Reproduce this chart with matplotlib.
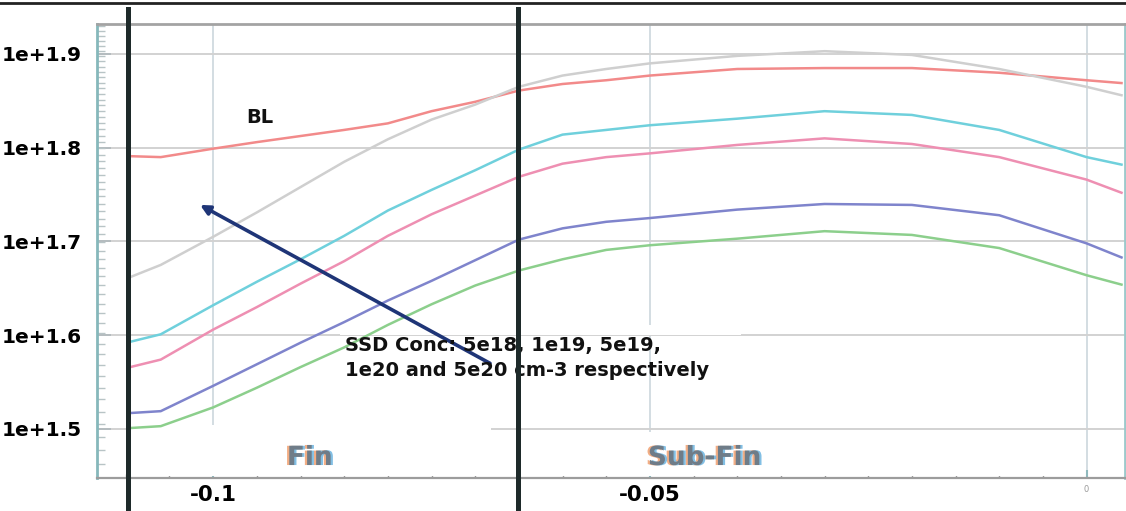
import numpy as np
import matplotlib.pyplot as plt
import matplotlib.patheffects as pe
from matplotlib.ticker import FixedLocator, FuncFormatter, NullFormatter, MultipleLocator
from matplotlib.patches import Rectangle

plt.rcParams['font.family'] = ['DejaVu Sans']

# position along the fin (um) where each curve was sampled
x_pos = [-0.1095, -0.106, -0.1, -0.095, -0.09, -0.085, -0.08, -0.075, -0.07,
         -0.065, -0.06, -0.055, -0.05, -0.04, -0.03, -0.02, -0.01, 0.0, 0.004]

# log10 of the plotted quantity, one list per curve
bl_exp = [1.791, 1.790, 1.799, 1.806, 1.8125, 1.819, 1.826, 1.839, 1.849, 1.861,
          1.868, 1.872, 1.877, 1.884, 1.885, 1.885, 1.880, 1.872, 1.869]
ssd_5e18_exp = [1.662, 1.675, 1.705, 1.731, 1.758, 1.785, 1.809, 1.830, 1.846, 1.865,
                1.877, 1.884, 1.890, 1.898, 1.903, 1.899, 1.884, 1.865, 1.856]
ssd_1e19_exp = [1.593, 1.601, 1.632, 1.657, 1.681, 1.706, 1.733, 1.755, 1.776, 1.798,
                1.814, 1.819, 1.824, 1.831, 1.839, 1.835, 1.819, 1.790, 1.782]
ssd_5e19_exp = [1.566, 1.574, 1.606, 1.630, 1.655, 1.679, 1.706, 1.729, 1.749, 1.769,
                1.783, 1.790, 1.794, 1.803, 1.810, 1.804, 1.790, 1.766, 1.752]
ssd_1e20_exp = [1.517, 1.519, 1.546, 1.569, 1.592, 1.614, 1.637, 1.658, 1.680, 1.702,
                1.714, 1.721, 1.725, 1.734, 1.740, 1.739, 1.728, 1.698, 1.683]
ssd_5e20_exp = [1.501, 1.503, 1.523, 1.544, 1.566, 1.587, 1.611, 1.633, 1.653, 1.669,
                1.681, 1.691, 1.696, 1.703, 1.711, 1.707, 1.693, 1.664, 1.654]

curves = [
    (bl_exp, '#f28a8a'),
    (ssd_5e18_exp, '#cfcfcf'),
    (ssd_1e19_exp, '#6fd0dc'),
    (ssd_5e19_exp, '#ee8fb2'),
    (ssd_1e20_exp, '#7f84cc'),
    (ssd_5e20_exp, '#8ccf8c'),
]

y_tick_exps = [1.5, 1.6, 1.7, 1.8, 1.9]
x_ticks = [-0.1, -0.05, 0.0]
region_edges = [-0.1097, -0.0651]   # Fin / Sub-Fin boundaries

arrow_tail = (-0.0683, 1.570)
arrow_head = (-0.1015, 1.739)

fig = plt.figure(figsize=(11.26, 5.11), dpi=100)
ax = fig.add_axes([97 / 1126, 33 / 511, 1028 / 1126, 454 / 511])

for exps, col in curves:
    ax.plot(x_pos, np.power(10.0, exps), color=col, lw=1.8, zorder=3,
            solid_joinstyle='round')

ax.set_yscale('log')
ax.set_xlim(-0.1133, 0.0044)
ax.set_ylim(10 ** 1.4477, 10 ** 1.932)

ax.yaxis.set_major_locator(FixedLocator(np.power(10.0, y_tick_exps)))
ax.yaxis.set_major_formatter(FuncFormatter(lambda v, p: f"1e+{np.log10(v):.1f}"))
ax.yaxis.set_minor_locator(FixedLocator(np.arange(28, 86)))
ax.yaxis.set_minor_formatter(NullFormatter())

ax.xaxis.set_major_locator(FixedLocator(x_ticks))
ax.xaxis.set_major_formatter(FuncFormatter(lambda v, p: "0" if abs(v) < 1e-9 else f"{v:g}"))
ax.xaxis.set_minor_locator(MultipleLocator(0.005))

ax.tick_params(axis='y', which='major', direction='in', length=10, width=1.2,
               color='#b0b8bb', pad=11, labelsize=14.5)
ax.tick_params(axis='y', which='minor', direction='in', length=6, width=1,
               color='#b8c4c6')
ax.tick_params(axis='x', which='major', direction='in', length=6, width=1.5,
               color='#8fb9bd', pad=5, labelsize=15.5)
ax.tick_params(axis='x', which='minor', direction='in', length=3, width=1,
               color='#9a9a9a')
for lab in ax.get_yticklabels() + ax.get_xticklabels():
    lab.set_fontweight('heavy')
xl = ax.get_xticklabels()
xl[-1].set_fontsize(6)
xl[-1].set_color('#999999')
xl[-1].set_fontweight('normal')

ax.set_axisbelow(True)
ax.grid(True, which='major', axis='y', color='#d2d2d2', lw=1.4)
ax.grid(True, which='major', axis='x', color='#d3dde2', lw=1.4)

ax.spines['left'].set_color('#86b8bb')
ax.spines['left'].set_linewidth(2)
ax.spines['right'].set_color('#9cc9cb')
ax.spines['right'].set_linewidth(2)
ax.spines['top'].set_color('#a3a3a3')
ax.spines['top'].set_linewidth(2)
ax.spines['bottom'].set_color('#9c9c9c')
ax.spines['bottom'].set_linewidth(1.6)

# blank strip under the region labels
ax.add_patch(Rectangle((0.032, 0.004), 0.351, 0.113, transform=ax.transAxes,
                       facecolor='white', edgecolor='none', zorder=1))
ax.add_patch(Rectangle((0.382, 0.004), 0.572, 0.097, transform=ax.transAxes,
                       facecolor='white', edgecolor='none', zorder=1))
# gap in the 1e+1.6 grid line behind the note
ax.add_patch(Rectangle((0.236, 0.315), 0.39, 0.022, transform=ax.transAxes,
                       facecolor='white', edgecolor='none', zorder=1))

# region boundaries running past the frame
for xe in region_edges:
    ax.axvline(xe, ymin=-0.075, ymax=1.033, color='#1e2a2a', lw=3.6,
               clip_on=False, zorder=6)

ax.annotate('', xy=(arrow_head[0], 10 ** arrow_head[1]),
            xytext=(arrow_tail[0], 10 ** arrow_tail[1]),
            arrowprops=dict(arrowstyle='-|>', color='#1f3577', lw=2.6,
                            mutation_scale=14, shrinkA=0, shrinkB=0),
            zorder=4)

ax.text(0.1586, 0.793, 'BL', transform=ax.transAxes, ha='center', va='center',
        fontsize=14, fontweight='heavy', color='#111111', zorder=5)

ax.text(0.241, 0.312, 'SSD Conc: 5e18, 1e19, 5e19,\n1e20 and 5e20 cm-3 respectively',
        transform=ax.transAxes, ha='left', va='top', fontsize=14,
        fontweight='heavy', color='#111111', linespacing=1.38, zorder=5)

fringe = [pe.SimplePatchShadow(offset=(-1.6, 0), shadow_rgbFace='#f0a070', alpha=0.85),
          pe.SimplePatchShadow(offset=(1.6, 0), shadow_rgbFace='#6cb4e0', alpha=0.85),
          pe.Normal()]
for label, xf in [('Fin', 0.207), ('Sub-Fin', 0.591)]:
    t = ax.text(xf, 0.044, label, transform=ax.transAxes, ha='center', va='center',
                fontsize=19, fontweight='bold', color='#6f7c88', zorder=4)
    t.set_path_effects(fringe)

# dark rule along the top edge
fig.add_artist(plt.Line2D([0, 1], [0.995, 0.995], transform=fig.transFigure,
                          color='#222222', lw=2))

fig.savefig('out.png', dpi=100)
